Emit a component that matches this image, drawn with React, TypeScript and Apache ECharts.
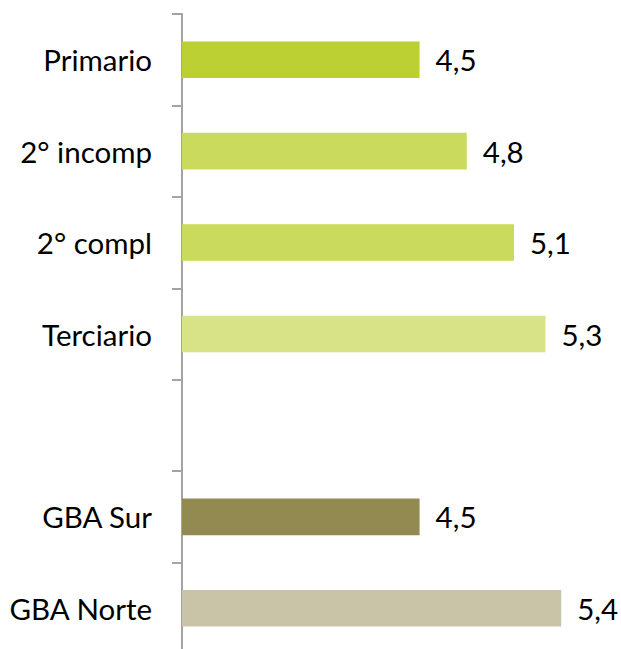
import React, { useEffect, useRef } from "react";
import * as echarts from "echarts";

const categories = ["Primario", "2° incomp", "2° compl", "Terciario", "", "GBA Sur", "GBA Norte"];
const values: (number | null)[] = [4.5, 4.8, 5.1, 5.3, null, 4.5, 5.4];
const barColors = ["#bdd033", "#c9da5c", "#c9da5c", "#d8e388", "#ffffff", "#938a52", "#c9c4a8"];

export default function App() {
  const ref = useRef<HTMLDivElement>(null);
  useEffect(() => {
    if (!ref.current) return;
    const chart = echarts.init(ref.current, null, { renderer: "svg" });
    const font = "Lato";
    chart.setOption({
      animation: false,
      backgroundColor: "#ffffff",
      grid: { left: 182, top: 14, right: 0, height: 640 },
      xAxis: {
        type: "value",
        min: 2.99,
        max: 5.78,
        show: false,
      },
      yAxis: {
        type: "category",
        inverse: true,
        data: categories,
        axisLine: { show: true, lineStyle: { color: "#a3a3a3", width: 2 } },
        axisTick: { show: true, length: 10, lineStyle: { color: "#a3a3a3", width: 2 } },
        axisLabel: { margin: 30, color: "#000000", fontFamily: font, fontSize: 29.5 },
        splitLine: { show: false },
      },
      series: [
        {
          type: "bar",
          barWidth: "40%",
          data: values.map((v, i) => ({ value: v, itemStyle: { color: barColors[i] } })),
          label: {
            show: true,
            position: "right",
            distance: 16,
            color: "#000000",
            fontFamily: font,
            fontSize: 29.5,
            formatter: (p: any) => (p.value == null ? "" : String(p.value).replace(".", ",")),
          },
        },
      ],
    });
    return () => chart.dispose();
  }, []);
  return (
    <div
      ref={ref}
      style={{ position: "fixed", left: 0, top: 0, width: 621, height: 660 }}
    />
  );
}
